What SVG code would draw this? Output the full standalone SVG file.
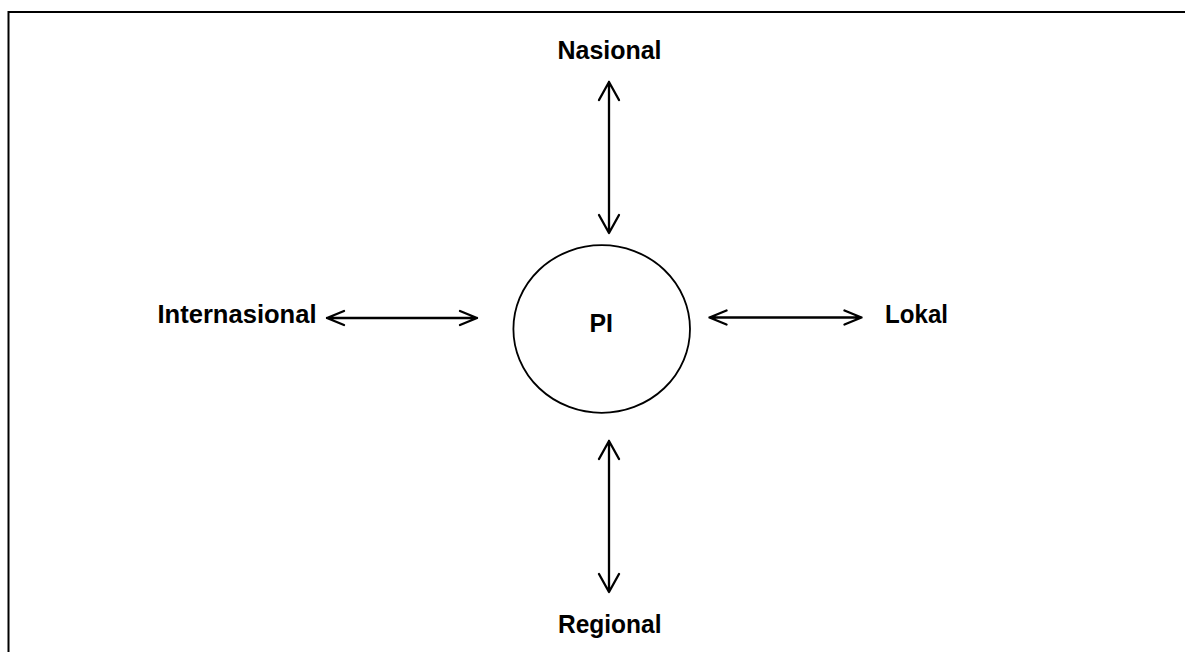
<svg xmlns="http://www.w3.org/2000/svg" width="1185" height="652" viewBox="0 0 1185 652">
<style>
.t{font-family:"Liberation Sans",Arial,sans-serif;font-weight:bold;font-size:26.5px;fill:#000}
.c{fill:none;stroke:#000;stroke-width:2.3;stroke-linecap:round;stroke-linejoin:round}
</style>
<rect width="1185" height="652" fill="#fff"/>
<path d="M8.5 652 V12 H1185" fill="none" stroke="#000" stroke-width="2"/>
<g id="node-pi">
<ellipse cx="601.7" cy="329" rx="88.3" ry="83.8" fill="none" stroke="#000" stroke-width="1.8"/>
<text class="t" x="589.5" y="331.5" textLength="23.5" lengthAdjust="spacingAndGlyphs">PI</text>
</g>
<g id="node-nasional"><text class="t" x="557.5" y="58.5" textLength="104" lengthAdjust="spacingAndGlyphs">Nasional</text></g>
<g id="node-regional"><text class="t" x="558" y="632.5" textLength="103.5" lengthAdjust="spacingAndGlyphs">Regional</text></g>
<g id="node-internasional"><text class="t" x="157.5" y="322.5" textLength="159" lengthAdjust="spacingAndGlyphs">Internasional</text></g>
<g id="node-lokal"><text class="t" x="885" y="323" textLength="63" lengthAdjust="spacingAndGlyphs">Lokal</text></g>
<g id="connectors">
<path class="c" d="M609 82 V233 M599 100 L609 82 L619 100 M599 215 L609 233 L619 215"/>
<path class="c" d="M609 441 V592 M599 459 L609 441 L619 459 M599 574 L609 592 L619 574"/>
<path class="c" d="M327 318 H477 M344 311 L327 318 L344 325 M460 311 L477 318 L460 325"/>
<path class="c" d="M709.5 317.5 H861.5 M726.5 310.5 L709.5 317.5 L726.5 324.5 M844.5 310.5 L861.5 317.5 L844.5 324.5"/>
</g>
</svg>
